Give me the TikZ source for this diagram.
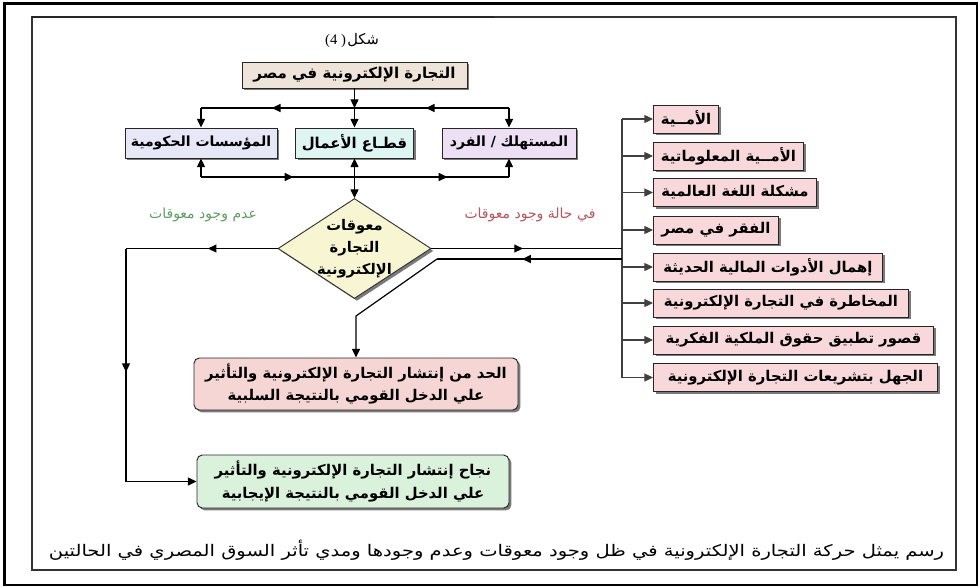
\documentclass[tikz,border=0pt]{standalone}
\usepackage{fontspec}
\setmainfont{Liberation Serif}
\newfontfamily\arabicfont[Script=Arabic]{DejaVu Sans}
\newfontfamily\arabicwide[Script=Arabic,FakeStretch=1.22]{DejaVu Sans}
\TeXXeTstate=1
\usetikzlibrary{arrows.meta,shadows,decorations.markings,shapes.geometric,calc}
\newcommand{\RL}[1]{\beginR #1\endR}
\definecolor{topfill}{HTML}{EFE4DA}
\definecolor{govfill}{HTML}{E6E8F8}
\definecolor{bizfill}{HTML}{DFF5F1}
\definecolor{confill}{HTML}{EDE0F4}
\definecolor{pinkbox}{HTML}{F8D8DB}
\definecolor{diafill}{HTML}{F7F5D2}
\definecolor{negfill}{HTML}{F6D5D5}
\definecolor{posfill}{HTML}{DAF2DB}
\definecolor{greenlab}{HTML}{5E9E62}
\definecolor{redlab}{HTML}{B0585C}
\begin{document}
\begin{tikzpicture}[x=0.75pt,y=-0.75pt,
  >={Triangle[length=6.5pt,width=6pt]},
  conn/.style={draw=black, line width=0.9pt},
  busline/.style={draw=black!75, line width=0.9pt},
  shad/.style={drop shadow={shadow xshift=1.8pt,shadow yshift=-1.8pt,fill=black!65,opacity=0.8}},
  boxbase/.style={shad, draw=black!85, line width=0.7pt, inner sep=0pt,
    font=\arabicfont\bfseries\fontsize{11}{13}\selectfont},
  listbox/.style={boxbase, fill=pinkbox, anchor=west, minimum height=28*0.75pt,
    font=\arabicfont\bfseries\fontsize{11.1}{13}\selectfont},
  outbox/.style={boxbase, rounded corners=4pt, align=center,
    font=\arabicfont\bfseries\fontsize{11.1}{17}\selectfont},
  midarr/.style={postaction={decorate,decoration={markings,mark=at position #1 with {\arrow{>}}}}},
  lab/.style={font=\arabicfont\fontsize{10.5}{12}\selectfont}
]
\useasboundingbox (0,0) rectangle (980,587);
% frames
\draw[line width=2.2pt] (4.5,3.5) rectangle (977,585);
\draw[line width=1.1pt, black!80] (32,17) rectangle (956,570);
\draw[line width=1.5pt, black!85] (32,16.5) -- (494,16.5);

% title
\node[font=\fontsize{11}{13}\selectfont] (title) at (352,40) {(4 )\hspace{1pt}{\arabicfont\RL{شكل}}};

% top box and three boxes
\node[boxbase, fill=topfill, minimum width=225*0.75pt, minimum height=26*0.75pt,
  font=\arabicfont\bfseries\fontsize{11.3}{13}\selectfont] (top) at (354.5,75) {\RL{التجارة الإلكترونية في مصر}};
\node[boxbase, fill=govfill, minimum width=152*0.75pt, minimum height=30*0.75pt,
  font=\arabicfont\bfseries\fontsize{10.5}{13}\selectfont] (gov) at (201,143) {\RL{المؤسسات الحكومية}};
\node[boxbase, fill=bizfill, minimum width=118*0.75pt, minimum height=30*0.75pt,
  font=\arabicfont\bfseries\fontsize{11.2}{13}\selectfont] (biz) at (354.5,143) {\RL{قطـاع الأعمال}};
\node[boxbase, fill=confill, minimum width=134*0.75pt, minimum height=30*0.75pt,
  font=\arabicfont\bfseries\fontsize{10.5}{13}\selectfont] (con) at (509,143) {\RL{المستهلك / الفرد}};

\coordinate (tl) at (201,108);
\coordinate (tj) at (354.5,108);
\coordinate (tr) at (509,108);
\draw[conn,->] (top.south) -- (tj);
\draw[conn,midarr=0.27,midarr=0.77] (tr) -- (tl);
\draw[conn,->] (tl) -- (gov.north);
\draw[conn,->] (tj) -- (biz.north);
\draw[conn,->] (tr) -- (con.north);

\coordinate (bl) at (201,177);
\coordinate (bj) at (354.5,177);
\coordinate (br) at (509,177);
\draw[conn,midarr=0.3,midarr=0.8] (bl) -- (br);
\draw[conn,->] (bl) -- (gov.south);
\draw[conn,->] (bj) -- (biz.south);
\draw[conn,->] (br) -- (con.south);

% diamond
\node[shad, diamond, draw=black!80, line width=0.7pt, fill=diafill, minimum width=153*0.75pt, minimum height=100*0.75pt, inner sep=0pt] (dia) at (354.5,248.5) {};
\node[font=\arabicfont\bfseries\fontsize{11}{16.5}\selectfont, align=center] (diatext) at (dia.center) {\RL{معوقات}\\\RL{التجارة}\\\RL{الإلكترونية}};
\draw[conn,->] (bj) -- (dia.north);

% labels
\node[lab, text=greenlab] (lab1) at (203,215) {\RL{عدم وجود معوقات}};
\node[lab, text=redlab] (lab2) at (530,215) {\RL{في حالة وجود معوقات}};

% outcome boxes
\node[outbox, fill=negfill, minimum width=324*0.75pt, minimum height=52*0.75pt] (neg) at (356,384) {\RL{الحد من إنتشار التجارة الإلكترونية والتأثير}\\\RL{علي الدخل القومي بالنتيجة السلبية}};
\node[outbox, fill=posfill, minimum width=312*0.75pt, minimum height=53*0.75pt] (pos) at (353,481.5) {\RL{نجاح إنتشار التجارة الإلكترونية والتأثير}\\\RL{علي الدخل القومي بالنتيجة الإيجابية}};

% right list
\node[listbox, minimum width=65*0.75pt] (r1) at (653,119) {\RL{الأمــية}};
\node[listbox, minimum width=150*0.75pt] (r2) at (653,156) {\RL{الأمــية المعلوماتية}};
\node[listbox, minimum width=163*0.75pt] (r3) at (653,192.5) {\RL{مشكلة اللغة العالمية}};
\node[listbox, minimum width=125*0.75pt] (r4) at (653,230) {\RL{الفقر في مصر}};
\node[listbox, minimum width=229*0.75pt] (r5) at (653,267) {\RL{إهمال الأدوات المالية الحديثة}};
\node[listbox, minimum width=255*0.75pt] (r6) at (653,303) {\RL{المخاطرة في التجارة الإلكترونية}};
\node[listbox, minimum width=280*0.75pt] (r7) at (653,340) {\RL{قصور تطبيق حقوق الملكية الفكرية}};
\node[listbox, minimum width=284*0.75pt] (r8) at (653,377.5) {\RL{الجهل بتشريعات التجارة الإلكترونية}};

\coordinate (bus) at (622,119);
\coordinate (busb) at (622,377.5);
\draw[busline] (bus) -- (busb);
\foreach \i in {1,...,8}{
  \draw[busline,->] (bus |- r\i.west) -- (r\i.west);
}

% left branch
\coordinate (cl) at (126,248.5);
\coordinate (cg) at (126,481.5);
\draw[conn,midarr=0.46] (dia.west) -- (cl);
\draw[conn,midarr=0.53] (cl) -- (cg);
\draw[conn,->] (cg) -- (pos.west);

% right branch
\coordinate (q1) at (622,248.5);
\coordinate (q2) at (622,259);
\coordinate (q3) at (437,259);
\coordinate (q4) at (356,316);
\draw[conn,midarr=0.48] (dia.east) -- (q1);
\draw[conn,midarr=0.54] (q2) -- (q3);
\draw[conn,->] (q3) -- (q4) -- (neg.north);

% caption
\node[font=\arabicwide\fontsize{12}{14}\selectfont] (cap) at (496.5,550) {\RL{رسم يمثل حركة التجارة الإلكترونية في ظل وجود معوقات وعدم وجودها ومدي تأثر السوق المصري في الحالتين}};
\end{tikzpicture}
\end{document}
